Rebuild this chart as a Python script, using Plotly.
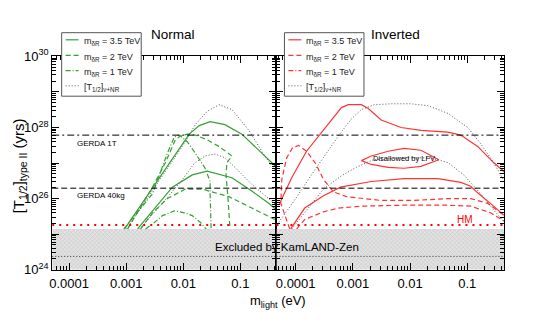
import plotly.graph_objects as go

# ---------------- values ----------------
# light neutrino mass m_light (eV) and half-life [T_1/2] (yrs)

# Normal hierarchy (left panel)
n35_up_m = [9.4e-4, 2.9e-3, 0.0127, 0.019, 0.0295, 0.0537, 0.106, 0.237, 0.43]
n35_up_t = [1.4e25, 1.96e26, 6.5e27, 1.13e28, 1.45e28, 1.2e28, 6.5e27, 1.9e27, 7.6e26]
n35_lo_m = [1.58e-3, 2.89e-3, 6.44e-3, 0.01435, 0.0261, 0.0711, 0.1585, 0.313, 0.43]
n35_lo_t = [1.4e25, 4.5e25, 2.09e26, 4.64e26, 5.93e26, 3.86e26, 1.63e26, 7.36e25, 4.79e25]

n2_up_m = [1.06e-3, 2.89e-3, 4.86e-3, 7.26e-3, 8.87e-3, 0.01175, 0.0162, 0.0261, 0.0423,
           0.0711, 0.0582, 0.056, 0.0607, 0.0657]
n2_up_t = [1.4e25, 2.09e26, 1.03e27, 4.5e27, 5.75e27, 6.5e27, 6.12e27, 4.5e27, 2.93e27,
           1.58e27, 1.03e27, 4.64e26, 1.0e26, 1.4e25]
n2_lo_m = [1.79e-3, 2.89e-3, 5.27e-3, 0.01084, 0.0214, 0.0631, 0.1585, 0.43]
n2_lo_t = [1.4e25, 3.98e25, 1.0e26, 1.85e26, 1.85e26, 1.13e26, 5.41e25, 2.44e25]

n1_up_m = [9.06e-4, 2.89e-3, 5.27e-3, 6.97e-3, 8.52e-3, 0.01175, 0.0162, 0.0241, 0.0295,
           0.0295, 0.0307]
n1_up_t = [1.4e25, 1.36e26, 1.9e27, 5.41e27, 6.12e27, 3.98e27, 1.9e27, 7.13e26, 3.02e26,
           1.36e26, 1.4e25]
n1_lo_m = [2.18e-3, 2.89e-3, 4.31e-3, 6.97e-3, 0.0104, 0.01435, 0.0198, 0.0251]
n1_lo_t = [1.4e25, 1.91e25, 3.31e25, 4.5e25, 3.98e25, 3.31e25, 2.15e25, 1.4e25]

n_nu_up_m = [1.02e-3, 2.89e-3, 9.6e-3, 0.0162, 0.0261, 0.0423, 0.0711, 0.1406, 0.267, 0.43]
n_nu_up_t = [1.4e25, 1.63e26, 2.93e27, 1.2e28, 2.84e28, 4.37e28, 3.21e28, 8.3e27, 1.58e27, 5.6e26]
n_nu_lo_m = [1.72e-3, 4.31e-3, 9.6e-3, 0.0155, 0.0241, 0.036, 0.0537, 0.0802, 0.1585, 0.43]
n_nu_lo_t = [1.4e25, 7.36e25, 3.42e26, 9.7e26, 1.58e27, 1.79e27, 1.4e27, 7.6e26, 2.51e26, 6.5e25]

# Inverted hierarchy (right panel)
i35_up_m = [5.06e-5, 8.52e-5, 1.55e-4, 2.61e-4, 4.23e-4, 6.31e-4, 8.35e-4, 1.41e-3, 1.86e-3,
            3.13e-3, 6.97e-3, 0.0155, 0.0458, 0.077, 0.1525, 0.289, 0.449]
i35_up_t = [6.5e25, 3.86e26, 2.15e27, 6.12e27, 1.63e28, 3.63e28, 4.37e28, 4.37e28, 3.42e28,
            1.63e28, 1.0e28, 8.3e27, 7.36e27, 6.1e27, 2.93e27, 1.03e27, 5.58e26]
i35_lo_m = [8.18e-5, 1.44e-4, 3.07e-4, 6.06e-4, 2.1e-3, 7.87e-3, 0.0307, 0.077, 0.115, 0.1525,
            0.289, 0.449]
i35_lo_t = [1.4e25, 5.41e25, 1.2e26, 2.09e26, 3.02e26, 3.63e26, 3.63e26, 2.84e26, 2.22e26,
            1.45e26, 6.12e25, 3.31e25]

i2_up_m = [7.87e-5, 5.48e-5, 5.71e-5, 6.97e-5, 8.87e-5, 1.13e-4, 1.55e-4, 2.23e-4, 3.07e-4,
           4.58e-4, 7.7e-4, 1.41e-3, 3.13e-3, 0.01175, 0.0458, 0.115, 0.2275, 0.449]
i2_up_t = [1.4e25, 7.36e25, 3.42e26, 1.4e27, 2.75e27, 3.11e27, 2.15e27, 9.7e26, 3.42e26,
           1.54e26, 1.13e26, 1.0e26, 8.85e25, 8.85e25, 1.0e26, 1.0e26, 7.36e25, 3.31e25]
i2_lo_m = [1.04e-4, 1.44e-4, 3.07e-4, 5.6e-4, 1.41e-3, 7.87e-3, 0.0458, 0.115, 0.2565, 0.449]
i2_lo_t = [1.4e25, 2.59e25, 4.24e25, 5.41e25, 6.12e25, 6.5e25, 6.5e25, 6.12e25, 3.98e25, 2.29e25]

i_nu_up_m = [5.06e-5, 9.23e-5, 2.32e-4, 6.06e-4, 9.42e-4, 1.41e-3, 2.37e-3, 4.68e-3, 0.0104,
             0.0206, 0.0458, 0.102, 0.172, 0.289, 0.449]
i_nu_up_t = [2.15e25, 8.3e25, 7.6e26, 6.9e27, 1.74e28, 3.2e28, 4.37e28, 4.64e28, 4.64e28,
             4.1e28, 2.5e28, 1.0e28, 3.52e27, 1.03e27, 3.0e26]
i_nu_lo_m = [8.52e-5, 1.55e-4, 3.07e-4, 6.31e-4, 1.15e-3, 2.28e-3, 6.97e-3, 0.0232, 0.0458,
             0.0869, 0.172, 0.289, 0.449]
i_nu_lo_t = [1.4e25, 4.79e25, 1.85e26, 4.37e26, 7.59e26, 1.24e27, 1.4e27, 1.4e27, 1.03e27,
             4.64e26, 1.36e26, 4.79e25, 2.15e25]

# region disallowed by LFV (closed contour)
lfv_m = [1.41e-3, 2.1e-3, 4.14e-3, 7.87e-3, 0.0155, 0.0319, 0.0155, 7.87e-3, 4.14e-3, 2.1e-3, 1.41e-3]
lfv_t = [1.17e27, 1.58e27, 2.15e27, 2.59e27, 2.29e27, 1.24e27, 8.07e26, 7.13e26, 7.59e26,
         9.12e26, 1.17e27]

# experimental limits (yrs)
T_GERDA_1T = 6.1e27
T_GERDA_40KG = 1.96e26
T_HM = 1.79e25
T_KAMLAND = 1.4e25
T_KAMLAND_DOT = 2.36e24
T_MIN = 1e24

x_ticks = [1e-4, 1e-3, 1e-2, 1e-1]
x_ticktext = ["0.0001", "0.001", "0.01", "0.1"]

# ---------------- styling ----------------
FONT = "Liberation Sans"
GREEN = "#33a033"
RED = "#ff3333"
GRAY = "#555555"
W, H = 538, 326

XR_L = [-4.296, -0.368]
XR_R = [-4.336, -0.348]

SOLID = "solid"
DASH = "5px,3px"
DASHDOT = "5px,2px,1px,2px"
DOT = "1px,2px"

name35 = "m<sub>δR</sub> = 3.5 TeV"
name2 = "m<sub>δR</sub> = 2 TeV"
name1 = "m<sub>δR</sub> = 1 TeV"
name_nu = "[T<sub>1/2</sub>]<sub>ν+NR</sub>"

fig = go.Figure()


def band(xr, xa, ya):
    lo, hi = 10 ** xr[0], 10 ** xr[1]
    fig.add_trace(go.Scatter(
        x=[lo, hi, hi, lo, lo], y=[T_MIN, T_MIN, T_KAMLAND, T_KAMLAND, T_MIN],
        xaxis=xa, yaxis=ya, mode="lines", fill="toself", line=dict(width=0),
        fillcolor="#dcdcdc",
        fillpattern=dict(shape="x", size=3, solidity=0.25, fgcolor="#9a9a9a", bgcolor="#e2e2e2"),
        showlegend=False, hoverinfo="skip"))


band(XR_L, "x", "y")
band(XR_R, "x2", "y2")


def curve(m, t, xa, ya, color, dash, name=None):
    fig.add_trace(go.Scatter(
        x=m, y=t, xaxis=xa, yaxis=ya, mode="lines",
        line=dict(color=color, width=1.2 if dash != DOT else 1, dash=dash),
        name=name, showlegend=False))


# left panel
curve(n35_up_m, n35_up_t, "x", "y", GREEN, SOLID, name35)
curve(n35_lo_m, n35_lo_t, "x", "y", GREEN, SOLID, name35)
curve(n2_up_m, n2_up_t, "x", "y", GREEN, DASH, name2)
curve(n2_lo_m, n2_lo_t, "x", "y", GREEN, DASH, name2)
curve(n1_up_m, n1_up_t, "x", "y", GREEN, DASHDOT, name1)
curve(n1_lo_m, n1_lo_t, "x", "y", GREEN, DASHDOT, name1)
curve(n_nu_up_m, n_nu_up_t, "x", "y", GRAY, DOT, name_nu)
curve(n_nu_lo_m, n_nu_lo_t, "x", "y", GRAY, DOT, name_nu)

# right panel
curve(i35_up_m, i35_up_t, "x2", "y2", RED, SOLID, name35)
curve(i35_lo_m, i35_lo_t, "x2", "y2", RED, SOLID, name35)
curve(i2_up_m, i2_up_t, "x2", "y2", RED, DASH, name2)
curve(i2_lo_m, i2_lo_t, "x2", "y2", RED, DASH, name2)
curve(i_nu_up_m, i_nu_up_t, "x2", "y2", GRAY, DOT, name_nu)
curve(i_nu_lo_m, i_nu_lo_t, "x2", "y2", GRAY, DOT, name_nu)
curve(lfv_m, lfv_t, "x2", "y2", RED, SOLID, "LFV")

# horizontal limit lines across both panels
for xref, yref in (("x domain", "y"), ("x2 domain", "y2")):
    for val, col, dash, w in ((T_GERDA_1T, "black", "7px,3px,2px,3px", 1),
                              (T_GERDA_40KG, "black", "6px,3px", 1),
                              (T_HM, "red", "2px,5px", 2),
                              (T_KAMLAND_DOT, "#333333", "1px,2px", 1)):
        fig.add_shape(type="line", xref=xref, yref=yref, x0=0, x1=1, y0=val, y1=val,
                      line=dict(color=col, dash=dash, width=w), layer="above")


# ROOT-style legend boxes (drawn by hand to keep the compact look)
def legend_box(x0, entries):
    rows = [32.5, 49, 65, 81]
    fig.add_shape(type="rect", xref="paper", yref="paper", x0=x0 / W, x1=(x0 + 80) / W,
                  y0=1 - 25 / H, y1=1 - 92 / H, line=dict(color="#555555", width=1),
                  fillcolor="white", layer="above")
    for (label, color, dash), yr in zip(entries, rows):
        fig.add_shape(type="line", xref="paper", yref="paper", x0=(x0 + 4) / W, x1=(x0 + 17) / W,
                      y0=1 - yr / H, y1=1 - yr / H, layer="above",
                      line=dict(color=color, dash=dash, width=1.2 if dash != DOT else 1))
        fig.add_annotation(text=label, x=(x0 + 20) / W, y=1 - (yr + 2) / H, xref="paper",
                           yref="paper", xanchor="left", yanchor="middle", showarrow=False,
                           font=dict(family=FONT, size=9, color="#222222"))


legend_box(59, [(name35, GREEN, SOLID), (name2, GREEN, DASH), (name1, GREEN, DASHDOT),
                (name_nu, GRAY, DOT)])
legend_box(283, [(name35, RED, SOLID), (name2, RED, DASH), (name1, RED, DASHDOT),
                 (name_nu, GRAY, DOT)])

x_minor = [k * 10.0 ** e for e in range(-5, 0) for k in range(2, 10)]
y_major = [10.0 ** e for e in range(24, 31)]
y_text = ["10<sup>%d</sup>" % e if e % 2 == 0 else "" for e in range(24, 31)]
y_minor = [k * 10.0 ** e for e in range(24, 30) for k in range(2, 10)]

tickfont = dict(family=FONT, size=13, color="black")
common = dict(type="log", showline=True, linecolor="black", linewidth=1, mirror="ticks",
              ticks="inside", ticklen=7, tickwidth=1, tickcolor="black", showgrid=False,
              zeroline=False, tickfont=tickfont, tickmode="array")

xa = dict(common, tickvals=x_ticks, ticktext=x_ticktext, ticklabelstandoff=2,
          minor=dict(ticks="inside", ticklen=4, tickcolor="black", tickmode="array", tickvals=x_minor))
ya = dict(common, tickvals=y_major, ticktext=y_text, range=[24, 30],
          minor=dict(ticks="inside", ticklen=4, tickcolor="black", tickmode="array", tickvals=y_minor))

y_dom = [1 - 275 / H, 1 - 50 / H]
split = 275 / W

fig.update_layout(
    width=W, height=H,
    margin=dict(l=0, r=0, t=0, b=0),
    paper_bgcolor="white", plot_bgcolor="white",
    font=dict(family=FONT, color="black"),
    showlegend=False,
    xaxis=dict(xa, domain=[49.5 / W, split], range=XR_L, anchor="y"),
    xaxis2=dict(xa, domain=[split, 504.3 / W], range=XR_R, anchor="y2"),
    yaxis=dict(ya, domain=y_dom, anchor="x"),
    yaxis2=dict(ya, domain=y_dom, anchor="x2", matches="y", showticklabels=False),
)

ann = [
    dict(text="Normal", x=147 / W, y=1 - 27 / H, xanchor="left", size=13.5, color="black"),
    dict(text="Inverted", x=368 / W, y=1 - 27 / H, xanchor="left", size=13.5, color="black"),
    dict(text="GERDA 1T", x=72 / W, y=1 - 142 / H, xanchor="left", size=8, color="black"),
    dict(text="GERDA 40kg", x=72 / W, y=1 - 197 / H, xanchor="left", size=8, color="black"),
    dict(text="Excluded by KamLAND-Zen", x=286 / W, y=1 - 251 / H, xanchor="center", size=11.5,
         color="black"),
    dict(text="HM", x=465 / W, y=1 - 222 / H, xanchor="center", size=10, color="red"),
    dict(text="Disallowed by LFV", x=403 / W, y=1 - 158 / H, xanchor="center", size=7.5,
         color="black"),
    dict(text="m<sub>light</sub> (eV)", x=277 / W, y=1 - 309 / H, xanchor="center", size=13,
         color="black"),
]
for a in ann:
    fig.add_annotation(text=a["text"], x=a["x"], y=a["y"], xref="paper", yref="paper",
                       xanchor=a["xanchor"], yanchor="middle", showarrow=False,
                       font=dict(family=FONT, size=a["size"], color=a["color"]))

fig.add_annotation(text="[T<sub>1/2</sub>]<sub>type II</sub> (yrs)", x=16 / W, y=1 - 165 / H,
                   xref="paper", yref="paper", textangle=-90, showarrow=False,
                   xanchor="center", yanchor="middle", font=dict(family=FONT, size=15, color="black"))

fig.write_html("out.html", config={"displayModeBar": False},
               post_script="document.body.style.margin='0px';")
